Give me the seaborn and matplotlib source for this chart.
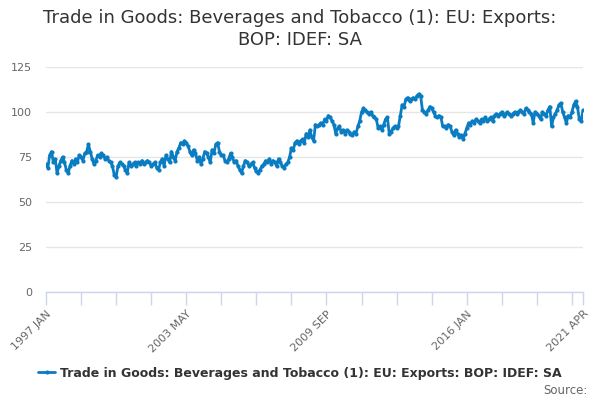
import matplotlib
matplotlib.use("Agg")
import matplotlib.pyplot as plt
import seaborn as sns
import pandas as pd
import numpy as np

title = "Trade in Goods: Beverages and Tobacco (1): EU: Exports:\nBOP: IDEF: SA"
series_name = "Trade in Goods: Beverages and Tobacco (1): EU: Exports: BOP: IDEF: SA"

y1997 = [71, 69, 76, 78, 72, 74, 66, 70, 73, 75, 72, 68]
y1998 = [66, 70, 73, 71, 74, 72, 76, 75, 73, 77, 78, 82]
y1999 = [78, 74, 71, 73, 76, 75, 77, 76, 74, 75, 73, 72]
y2000 = [70, 65, 64, 70, 72, 71, 70, 68, 66, 72, 70, 71]
y2001 = [72, 70, 72, 71, 73, 71, 72, 73, 72, 70, 71, 72]
y2002 = [69, 68, 72, 74, 70, 76, 74, 72, 78, 75, 73, 78]
y2003 = [80, 83, 82, 84, 83, 81, 78, 76, 79, 77, 73, 75]
y2004 = [71, 74, 78, 77, 75, 72, 79, 77, 82, 83, 78, 76]
y2005 = [76, 73, 72, 74, 77, 75, 72, 73, 70, 68, 66, 70]
y2006 = [73, 72, 70, 71, 72, 69, 67, 66, 68, 70, 71, 73]
y2007 = [72, 74, 71, 73, 72, 70, 74, 72, 70, 69, 71, 72]
y2008 = [75, 80, 79, 83, 84, 82, 84, 85, 83, 88, 86, 90]
y2009 = [86, 84, 93, 92, 93, 94, 93, 96, 95, 98, 97, 95]
y2010 = [93, 88, 91, 92, 89, 90, 88, 90, 89, 88, 87, 89]
y2011 = [88, 92, 95, 100, 102, 101, 100, 99, 100, 98, 97, 96]
y2012 = [91, 92, 90, 93, 96, 97, 88, 89, 91, 92, 91, 92]
y2013 = [98, 104, 103, 107, 108, 106, 107, 108, 107, 109, 110, 109]
y2014 = [101, 100, 99, 101, 103, 102, 100, 98, 97, 98, 97, 92]
y2015 = [92, 91, 93, 92, 89, 87, 90, 88, 86, 87, 85, 88]
y2016 = [91, 94, 93, 95, 94, 96, 95, 94, 96, 95, 97, 95]
y2017 = [96, 97, 95, 98, 99, 98, 99, 100, 98, 99, 100, 99]
y2018 = [98, 99, 100, 99, 100, 101, 100, 99, 102, 101, 100, 99]
y2019 = [94, 100, 99, 98, 96, 100, 99, 98, 101, 103, 92, 97]
y2020 = [99, 101, 104, 105, 100, 97, 94, 98, 97, 100, 104, 106]
y2021 = [103, 96, 95, 101]

values = (y1997 + y1998 + y1999 + y2000 + y2001 + y2002 + y2003 + y2004 + y2005
          + y2006 + y2007 + y2008 + y2009 + y2010 + y2011 + y2012 + y2013 + y2014
          + y2015 + y2016 + y2017 + y2018 + y2019 + y2020 + y2021)

tick_labels = {0: "1997 JAN", 76: "2003 MAY", 152: "2009 SEP", 228: "2016 JAN", 291: "2021 APR"}
y_ticks = [0, 25, 50, 75, 100, 125]

df = pd.DataFrame({"month": np.arange(len(values)), "value": values})

sns.set_theme(style="white")
plt.rcParams['font.family'] = ['DejaVu Sans']

fig = plt.figure(figsize=(6, 4), dpi=100)
ax = fig.add_axes([46/600, 1-292/400, (583-46)/600, (292-67)/400])

line_color = "#0a7cc1"
sns.lineplot(data=df, x="month", y="value", ax=ax, color=line_color, linewidth=2,
             marker="o", markersize=3, markeredgewidth=0, label=series_name, legend=False)

ax.set_xlim(0, len(values) - 1)
ax.set_ylim(0, 125)
ax.set_yticks(y_ticks)
ax.set_yticklabels([str(t) for t in y_ticks], color="#666666", fontsize=8)
ax.grid(axis="y", color="#e6e6e6", linewidth=1)
ax.grid(axis="x", visible=False)
ax.set_axisbelow(True)

minor = list(range(0, len(values), 19)) + [len(values) - 1]
ax.set_xticks(minor)
ax.set_xticklabels([tick_labels.get(m, "") for m in minor], rotation=45, ha="right",
                   rotation_mode="anchor", color="#666666", fontsize=8)
ax.tick_params(axis="x", length=9, color="#ccd6eb", width=1, pad=3, direction="out", bottom=True)
ax.tick_params(axis="y", length=0, pad=10)
ax.set_xlabel("")
ax.set_ylabel("")
for s in ["top", "right", "left"]:
    ax.spines[s].set_visible(False)
ax.spines["bottom"].set_color("#ccd6eb")
ax.spines["bottom"].set_linewidth(1)

fig.text(0.5, 1 - 9/400, title, ha="center", va="top", fontsize=13, color="#333333",
         linespacing=1.32)

handles, labels = ax.get_legend_handles_labels()
leg = fig.legend(handles, labels, loc="center", bbox_to_anchor=(0.5, 1 - 373/400), frameon=False,
                 prop={"weight": "bold", "size": 9}, handlelength=1.4, handletextpad=0.4)
for t in leg.get_texts():
    t.set_color("#333333")

fig.text(588/600, 1 - 391/400, "Source:", ha="right", va="center", fontsize=8.5, color="#666666")

fig.savefig("out.png", dpi=100)
